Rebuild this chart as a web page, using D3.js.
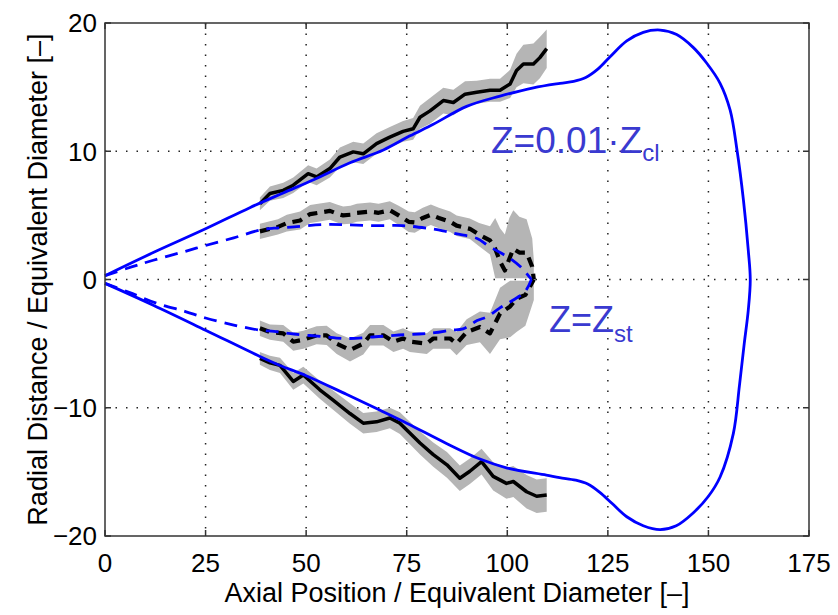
<!DOCTYPE html>
<html>
<head>
<meta charset="utf-8">
<script src="https://cdn.jsdelivr.net/npm/d3@7"></script>
<style>
  body { margin: 0; background: #fff; }
  text { font-family: "Liberation Sans", Arial, Helvetica, sans-serif; }
</style>
</head>
<body>
<div id="chart"></div>
<script>
// axis ticks
const xTicks = [0, 25, 50, 75, 100, 125, 150, 175];
const yTicks = [-20, -10, 0, 10, 20];

// model, solid boundary (Z = 0.01 Zcl), traced upper -> tip -> lower
const clX = [0, 12, 25, 36, 44.3, 52, 60.9, 69.2, 75.8, 81.6, 89.9, 98.2, 106.5, 113.1, 116.5, 119.5, 122.5, 125.5, 129.7, 133.8, 138, 142.1, 146.2, 149.5, 152.9, 155.4, 157.1, 158.7, 159.9, 160.4, 159.9, 158.9, 157.7, 156.2, 152.9, 150, 146.2, 142, 138, 133.8, 129.7, 126, 123, 120, 117, 113, 109.7, 100, 93.2, 85, 75, 68.4, 60, 50, 43.5, 38.5, 25, 12, 0];
const clY = [0.3, 2.1, 3.95, 5.6, 6.75, 7.8, 9.1, 10.1, 11.2, 12.1, 13.5, 14.3, 14.95, 15.3, 15.45, 15.75, 16.4, 17.35, 18.6, 19.27, 19.45, 19.1, 18.1, 16.9, 15.3, 13.2, 10.1, 6.2, 2.3, 0, -2.4, -5.0, -8.3, -12.0, -15.4, -16.9, -18.2, -19.2, -19.5, -19.2, -18.5, -17.45, -16.6, -15.95, -15.65, -15.45, -15.25, -14.7, -14.0, -12.8, -11.2, -10.2, -8.95, -7.5, -6.7, -6.0, -3.95, -2.0, -0.3];

// model, dashed stoichiometric contour (Z = Zst)
const stUpX = [0, 6.6, 12, 20, 25, 32, 38.5, 42, 47, 54, 60, 67, 74, 80, 84, 87.5, 92.5, 95.2, 98.2, 100.7, 103.6, 106];
const stUpY = [0.3, 0.98, 1.5, 2.2, 2.65, 3.25, 3.85, 4.0, 4.1, 4.28, 4.27, 4.2, 4.2, 4.0, 3.8, 3.55, 3.2, 2.65, 2.1, 1.65, 0.9, 0];
const stLoX = [0, 6, 12.8, 20, 25, 32, 38.5, 42, 47, 54, 60, 66, 72, 78, 82, 86, 89, 92.5, 95, 98, 101.5, 104.4, 106];
const stLoY = [-0.3, -1.0, -1.85, -2.5, -3.0, -3.55, -3.95, -4.05, -4.25, -4.45, -4.6, -4.5, -4.35, -4.25, -4.15, -3.95, -3.85, -3.2, -2.9, -2.25, -1.6, -0.95, 0];

// experiment, solid upper edge (mean and spread)
const expUpX = [38.5, 41, 44.3, 46.8, 50.5, 52.6, 55.9, 58.4, 61.7, 64.2, 67.5, 70.8, 74.1, 76.6, 78.3, 80.8, 84.1, 86.6, 89.5, 92.4, 95.7, 98.2, 100.7, 102.3, 104, 106.5, 108.1, 109.8];
const expUpY = [5.9, 6.7, 6.95, 7.35, 8.25, 8.0, 8.65, 9.55, 9.95, 9.8, 10.6, 11.1, 11.55, 11.75, 12.65, 13.15, 13.95, 13.8, 14.45, 14.6, 14.75, 14.75, 15.25, 16.3, 16.8, 16.8, 17.3, 18.0];
const expUpSd = [0.5, 0.55, 0.6, 0.6, 0.65, 0.65, 0.7, 0.75, 0.8, 0.8, 0.8, 0.8, 0.8, 0.85, 0.9, 1.0, 1.0, 1.0, 1.0, 0.9, 0.9, 0.9, 1.1, 1.3, 1.5, 1.6, 1.6, 1.5];

// experiment, solid lower edge
const expLoX = [38.5, 41, 43.5, 46.8, 49.3, 53.4, 56.7, 60.9, 64.2, 67.5, 70.8, 73.3, 78.3, 81.6, 85, 88.2, 90.7, 93.6, 96.5, 99.8, 101.5, 104.8, 107.3, 109.8];
const expLoY = [-6.15, -6.5, -6.7, -7.95, -7.45, -8.6, -9.4, -10.45, -11.2, -11.1, -10.8, -11.2, -12.75, -13.65, -14.45, -15.5, -14.95, -14.2, -15.35, -15.9, -15.75, -16.55, -16.9, -16.8];
const expLoSd = [0.5, 0.55, 0.6, 0.65, 0.65, 0.7, 0.75, 0.8, 0.8, 0.8, 0.8, 0.85, 0.9, 0.95, 1.0, 1.0, 1.0, 1.0, 1.1, 1.2, 1.2, 1.3, 1.3, 1.3];

// experiment, dashed stoichiometric upper
const expStUpX = [38.5, 41, 43, 45.2, 48.5, 51, 53, 55.9, 58, 59.2, 61, 62.6, 65.9, 68, 70.8, 73, 75.5, 77, 79, 81, 83, 85.8, 87.4, 90.7, 93, 95.7, 97, 98.2, 99.4, 100.5, 101.5, 103, 104.8, 106.2, 106.6];
const expStUpY = [3.75, 3.95, 4.1, 4.4, 4.6, 5.1, 5.2, 5.35, 5.1, 5.0, 5.05, 5.2, 5.3, 5.2, 5.4, 5.0, 4.5, 4.45, 4.8, 5.05, 4.8, 4.5, 4.2, 3.95, 3.5, 3.05, 2.4, 1.4, 0.7, 1.6, 2.4, 2.1, 2.1, 1.0, 0];
const expStUpSd = [0.6, 0.6, 0.6, 0.65, 0.7, 0.7, 0.7, 0.7, 0.7, 0.7, 0.7, 0.7, 0.7, 0.7, 0.7, 0.75, 0.8, 0.8, 0.8, 0.8, 0.8, 0.8, 0.8, 0.8, 0.9, 1.1, 2.4, 2.6, 2.8, 3.2, 3.0, 2.8, 2.6, 2.2, 1.5];

// experiment, dashed stoichiometric lower
const expStLoX = [38.5, 41, 44.3, 46.8, 49.3, 52.6, 55.1, 57.6, 60.9, 64.2, 65.9, 69.2, 71.7, 74.1, 75.8, 80, 81.6, 85.8, 87.4, 89.9, 93.2, 95.7, 98.2, 100.7, 102.3, 104.5, 106.6];
const expStLoY = [-3.8, -4.1, -4.2, -4.85, -4.7, -4.35, -4.35, -5.0, -5.5, -5.0, -4.35, -4.35, -4.85, -4.6, -4.85, -5.0, -4.6, -4.6, -5.0, -4.1, -3.7, -4.2, -2.65, -2.1, -1.5, -1.2, 0];
const expStLoSd = [0.6, 0.6, 0.65, 0.7, 0.7, 0.7, 0.75, 0.8, 0.9, 0.85, 0.8, 0.8, 0.8, 0.8, 0.8, 0.8, 0.8, 0.8, 0.9, 1.0, 1.2, 1.6, 2.0, 2.4, 2.6, 2.4, 1.6];

const width = 838, height = 615;
const margin = {top: 23, right: 29, bottom: 79, left: 105};
const iw = width - margin.left - margin.right;
const ih = height - margin.top - margin.bottom;

const svg = d3.select("#chart")
    .append("svg")
    .attr("width", width)
    .attr("height", height);

const g = svg.append("g")
    .attr("transform", `translate(${margin.left},${margin.top})`);

const x = d3.scaleLinear().domain([0, 175]).range([0, iw]);
const y = d3.scaleLinear().domain([-20, 20]).range([ih, 0]);

const zip = (xs, ys, sd) => xs.map((v, i) => ({x: v, y: ys[i], s: sd ? sd[i] : 0}));

// dotted grid
g.selectAll(".gx")
    .data(xTicks.slice(1, -1))
    .join("line")
    .attr("x1", d => x(d)).attr("x2", d => x(d))
    .attr("y1", 0).attr("y2", ih)
    .attr("stroke", "#222").attr("stroke-width", 1.5)
    .attr("stroke-dasharray", "1.5,9");
g.selectAll(".gy")
    .data(yTicks.slice(1, -1))
    .join("line")
    .attr("x1", 0).attr("x2", iw)
    .attr("y1", d => y(d)).attr("y2", d => y(d))
    .attr("stroke", "#222").attr("stroke-width", 1.5)
    .attr("stroke-dasharray", "1.5,9");

// grey spread bands
const band = (lo, hi) => d3.area()
    .x(d => x(d.x))
    .y0(d => y(lo(d)))
    .y1(d => y(hi(d)));

const grey = "#b5b5b5";
g.append("path").datum(zip(expUpX, expUpY, expUpSd))
    .attr("d", band(d => d.y - d.s, d => d.y + d.s)).attr("fill", grey);
g.append("path").datum(zip(expLoX, expLoY, expLoSd))
    .attr("d", band(d => d.y - d.s, d => d.y + d.s)).attr("fill", grey);
g.append("path").datum(zip(expStUpX, expStUpY, expStUpSd))
    .attr("d", band(d => Math.max(d.y - d.s, 0.1), d => d.y + d.s)).attr("fill", grey);
g.append("path").datum(zip(expStLoX, expStLoY, expStLoSd))
    .attr("d", band(d => d.y - d.s, d => Math.min(d.y + d.s, -0.1))).attr("fill", grey);

// experimental mean lines
const lin = d3.line().x(d => x(d.x)).y(d => y(d.y));
[[expUpX, expUpY], [expLoX, expLoY]].forEach(([xs, ys]) => {
    g.append("path").datum(zip(xs, ys))
        .attr("d", lin)
        .attr("fill", "none").attr("stroke", "#000")
        .attr("stroke-width", 3.5).attr("stroke-linejoin", "round");
});
[[expStUpX, expStUpY], [expStLoX, expStLoY]].forEach(([xs, ys]) => {
    g.append("path").datum(zip(xs, ys))
        .attr("d", lin)
        .attr("fill", "none").attr("stroke", "#000")
        .attr("stroke-width", 4.2).attr("stroke-dasharray", "10,7")
        .attr("stroke-linejoin", "round");
});

// model curves
const smooth = d3.line().x(d => x(d.x)).y(d => y(d.y)).curve(d3.curveCatmullRom.alpha(0.5));
g.append("path").datum(zip(clX, clY))
    .attr("d", smooth)
    .attr("fill", "none").attr("stroke", "#0000ff").attr("stroke-width", 2.8);
[[stUpX, stUpY], [stLoX, stLoY]].forEach(([xs, ys]) => {
    g.append("path").datum(zip(xs, ys))
        .attr("d", smooth)
        .attr("fill", "none").attr("stroke", "#0000ff").attr("stroke-width", 2.8)
        .attr("stroke-dasharray", "13,8");
});

// frame and inward ticks
g.append("rect").attr("width", iw).attr("height", ih)
    .attr("fill", "none").attr("stroke", "#333").attr("stroke-width", 1.5);

const tl = 6;
g.selectAll(".tx").data(xTicks).join("path")
    .attr("d", d => `M${x(d)},${ih}v${-tl}M${x(d)},0v${tl}`)
    .attr("stroke", "#333").attr("stroke-width", 1.5);
g.selectAll(".ty").data(yTicks).join("path")
    .attr("d", d => `M0,${y(d)}h${tl}M${iw},${y(d)}h${-tl}`)
    .attr("stroke", "#333").attr("stroke-width", 1.5);

// tick labels
g.selectAll(".lx").data(xTicks).join("text")
    .attr("x", d => x(d)).attr("y", ih + 36)
    .attr("text-anchor", "middle")
    .style("font-size", "26px")
    .text(d => d);
g.selectAll(".ly").data(yTicks).join("text")
    .attr("x", -8).attr("y", d => y(d)).attr("dy", "0.36em")
    .attr("text-anchor", "end")
    .style("font-size", "26px")
    .text(d => d < 0 ? "\u2212" + Math.abs(d) : d);

// axis titles
svg.append("text")
    .attr("x", margin.left + iw / 2).attr("y", 602)
    .attr("text-anchor", "middle")
    .style("font-size", "27px")
    .text("Axial Position / Equivalent Diameter [\u2013]");
svg.append("text")
    .attr("transform", `translate(47,${margin.top + ih / 2}) rotate(-90)`)
    .attr("text-anchor", "middle")
    .style("font-size", "27px")
    .text("Radial Distance / Equivalent Diameter [\u2013]");

// annotations
const annColor = "#3a3ad0";
const a1 = svg.append("text").attr("x", 491).attr("y", 153)
    .attr("fill", annColor).style("font-size", "37px");
a1.append("tspan").text("Z=0.01\u00b7Z");
a1.append("tspan").attr("dy", 8).style("font-size", "24px").text("cl");

const a2 = svg.append("text").attr("x", 549).attr("y", 332)
    .attr("fill", annColor).style("font-size", "36px");
a2.append("tspan").text("Z=Z");
a2.append("tspan").attr("dy", 10).style("font-size", "24px").text("st");
</script>
</body>
</html>
